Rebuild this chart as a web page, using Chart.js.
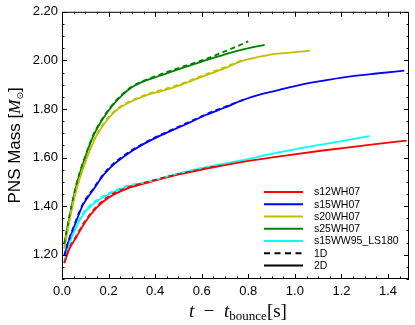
<!DOCTYPE html>
<html>
<head>
<meta charset="utf-8">
<script src="https://cdn.jsdelivr.net/npm/chart.js@4.4.0/dist/chart.umd.min.js"></script>
<style>
html,body{margin:0;padding:0;background:#fff;}
#wrap{width:415px;height:325px;position:relative;}
</style>
</head>
<body>
<div id="wrap"><canvas id="c" width="415" height="325"></canvas></div>
<script>
// ---- data (t - t_bounce [s], PNS mass [Msun]) ----
const tRed2D  = [0.01,0.03,0.06,0.10,0.15,0.20,0.28,0.38,0.48,0.62,0.77,0.95,1.12,1.30,1.48];
const mRed2D  = [1.165,1.22,1.27,1.335,1.395,1.435,1.472,1.500,1.526,1.554,1.581,1.607,1.629,1.650,1.670];
const tRed1D  = [0.01,0.03,0.06,0.10,0.15,0.20,0.28,0.38,0.48,0.62,0.68];
const mRed1D  = [1.167,1.224,1.275,1.340,1.400,1.440,1.476,1.503,1.528,1.556,1.567];

const tBlue2D = [0.01,0.03,0.05,0.09,0.135,0.18,0.22,0.28,0.34,0.40,0.47,0.55,0.62,0.70,0.78,0.86,0.93,1.00,1.07,1.15,1.24,1.35,1.47];
const mBlue2D = [1.195,1.26,1.31,1.405,1.468,1.530,1.570,1.614,1.650,1.680,1.711,1.745,1.776,1.806,1.838,1.862,1.878,1.894,1.908,1.921,1.934,1.946,1.958];
const tBlue1D = [0.01,0.03,0.05,0.09,0.135,0.18,0.22,0.28,0.34,0.40,0.47,0.55,0.62,0.70,0.79];
const mBlue1D = [1.197,1.264,1.315,1.410,1.473,1.534,1.574,1.618,1.653,1.683,1.714,1.748,1.779,1.809,1.842];

const tYel2D  = [0.01,0.03,0.06,0.10,0.14,0.18,0.22,0.26,0.30,0.35,0.40,0.48,0.60,0.70,0.78,0.85,0.91,0.98,1.065];
const mYel2D  = [1.225,1.33,1.46,1.58,1.675,1.737,1.783,1.812,1.832,1.852,1.867,1.889,1.932,1.968,2.000,2.015,2.026,2.032,2.040];
const tYel1D  = [0.01,0.03,0.06,0.10,0.14,0.18,0.22,0.26,0.30,0.35,0.40,0.48,0.60,0.70,0.78];
const mYel1D  = [1.227,1.335,1.465,1.585,1.679,1.742,1.787,1.816,1.836,1.855,1.871,1.893,1.936,1.972,2.004];

const tGrn2D  = [0.01,0.035,0.063,0.10,0.135,0.18,0.22,0.26,0.30,0.35,0.40,0.48,0.60,0.70,0.77,0.87];
const mGrn2D  = [1.245,1.37,1.49,1.602,1.690,1.766,1.818,1.858,1.889,1.913,1.930,1.957,1.995,2.025,2.043,2.064];
const tGrn1D  = [0.01,0.035,0.063,0.10,0.135,0.18,0.22,0.26,0.30,0.35,0.40,0.48,0.60,0.70,0.80];
const mGrn1D  = [1.247,1.374,1.495,1.607,1.695,1.770,1.822,1.862,1.892,1.916,1.934,1.962,2.000,2.037,2.078];

const tCyn2D  = [0.01,0.03,0.05,0.09,0.135,0.20,0.28,0.38,0.48,0.62,0.77,0.90,1.05,1.20,1.32];
const mCyn2D  = [1.168,1.24,1.29,1.365,1.410,1.448,1.479,1.500,1.528,1.561,1.588,1.615,1.643,1.668,1.688];
const tCyn1D  = [0.01,0.03,0.05,0.09,0.135,0.20,0.28,0.38,0.48,0.60];
const mCyn1D  = [1.170,1.244,1.295,1.370,1.415,1.453,1.483,1.503,1.530,1.558];

const modelNames = ['s12WH07','s15WH07','s20WH07','s25WH07','s15WW95_LS180'];
const modelColors = ['#ff0000','#0000ff','#bfbf00','#008000','#00ffff'];
const xTicks = [0.0,0.2,0.4,0.6,0.8,1.0,1.2,1.4];
const yTicks = [1.20,1.40,1.60,1.80,2.00,2.20];
const xRange = [0, 1.49];
const yRange = [1.10, 2.20];

const pts = (t,m) => t.map((v,i)=>({x:v,y:m[i]}));
const series2D = [pts(tRed2D,mRed2D),pts(tBlue2D,mBlue2D),pts(tYel2D,mYel2D),pts(tGrn2D,mGrn2D),pts(tCyn2D,mCyn2D)];
const series1D = [pts(tRed1D,mRed1D),pts(tBlue1D,mBlue1D),pts(tYel1D,mYel1D),pts(tGrn1D,mGrn1D),pts(tCyn1D,mCyn1D)];

const DASH=[5,3.5];
const datasets = [];
modelNames.forEach((n,i)=>{
  datasets.push({label:n+' 1D',data:series1D[i],borderColor:modelColors[i],borderWidth:1.8,borderDash:DASH,pointRadius:0,cubicInterpolationMode:'monotone',fill:false});
});
modelNames.forEach((n,i)=>{
  datasets.push({label:n+' 2D',data:series2D[i],borderColor:modelColors[i],borderWidth:1.8,pointRadius:0,cubicInterpolationMode:'monotone',fill:false});
});

const deco = {
  id:'deco',
  afterDraw(chart){
    const {ctx, chartArea:a, scales:{x,y}} = chart;
    ctx.save();
    ctx.strokeStyle='#000'; ctx.lineWidth=1;
    ctx.strokeRect(a.left+0.5,a.top+0.5,a.right-a.left-1,a.bottom-a.top-1);
    ctx.beginPath();
    const tick=(px,len,horiz)=>{
      if(horiz){
        ctx.moveTo(Math.round(px)+0.5,a.bottom); ctx.lineTo(Math.round(px)+0.5,a.bottom-len);
        ctx.moveTo(Math.round(px)+0.5,a.top); ctx.lineTo(Math.round(px)+0.5,a.top+len);
      } else {
        ctx.moveTo(a.left,Math.round(px)+0.5); ctx.lineTo(a.left+len,Math.round(px)+0.5);
        ctx.moveTo(a.right,Math.round(px)+0.5); ctx.lineTo(a.right-len,Math.round(px)+0.5);
      }
    };
    for(let k=0;k<=29;k++){const v=k*0.05; if(v>xRange[1]) break; const major=(k%4===0); tick(x.getPixelForValue(v),major?5:2.5,true);}
    for(let k=0;k<=22;k++){const v=1.10+k*0.05; if(v>yRange[1]+1e-9) break; const major=(k%4===2); tick(y.getPixelForValue(v),major?5:2.5,false);}
    ctx.stroke();

    // legend
    ctx.fillStyle='#000';
    ctx.font='10.5px "Liberation Sans", Arial, sans-serif';
    ctx.textBaseline='middle'; ctx.textAlign='left';
    const rows = modelNames.map((n,i)=>({label:n,color:modelColors[i],dash:[]}));
    rows.push({label:'1D',color:'#000',dash:[6,4.5]});
    rows.push({label:'2D',color:'#000',dash:[]});
    rows.forEach((r,i)=>{
      const yy = 192 + i*12.25;
      ctx.beginPath(); ctx.setLineDash(r.dash); ctx.strokeStyle=r.color; ctx.lineWidth=1.8;
      ctx.moveTo(264,yy); ctx.lineTo(303,yy); ctx.stroke();
      ctx.setLineDash([]);
      ctx.fillText(r.label,314,yy+0.5);
    });

    // y title
    ctx.save();
    ctx.translate(14,(a.top+a.bottom)/2);
    ctx.rotate(-Math.PI/2);
    ctx.textBaseline='alphabetic';
    const f1='17px "Liberation Sans", Arial, sans-serif';
    const f2='italic 17px "Liberation Serif", serif';
    const f3='9px "DejaVu Sans", sans-serif';
    const parts=[['PNS Mass [',f1,0],['M',f2,0],['\u2299',f3,3],[']',f1,0]];
    let w=0; parts.forEach(p=>{ctx.font=p[1]; w+=ctx.measureText(p[0]).width;});
    let cx=-w/2;
    parts.forEach(p=>{ctx.font=p[1]; ctx.fillText(p[0],cx,6+p[2]); cx+=ctx.measureText(p[0]).width;});
    ctx.restore();

    // x title
    const g1='italic 19px "Liberation Serif", serif';
    const g2='19px "Liberation Serif", serif';
    const g3='13px "Liberation Serif", serif';
    const xp=[['t',g1,0],['  \u2212  ',g2,0],['t',g1,0],['bounce',g3,3],['[s]',g2,0]];
    ctx.textBaseline='alphabetic';
    let wx=0; xp.forEach(p=>{ctx.font=p[1]; wx+=ctx.measureText(p[0]).width;});
    let sx=238 - wx/2;
    xp.forEach(p=>{ctx.font=p[1]; ctx.fillText(p[0],sx,317+p[2]); sx+=ctx.measureText(p[0]).width;});
    ctx.restore();
  }
};

new Chart(document.getElementById('c'),{
  type:'line',
  data:{datasets},
  options:{
    responsive:false, animation:false, devicePixelRatio:1,
    layout:{padding:{top:11,right:6,left:0,bottom:0}},
    plugins:{legend:{display:false},tooltip:{enabled:false}},
    scales:{
      x:{type:'linear',min:xRange[0],max:xRange[1],
         grid:{display:false,drawTicks:false},border:{display:false},
         afterBuildTicks:s=>{s.ticks=xTicks.map(v=>({value:v}));},
         afterFit:s=>{s.height=46;},
         ticks:{padding:5,color:'#000',font:{family:'"Liberation Sans", Arial, sans-serif',size:13},maxRotation:0,callback:v=>Number(v).toFixed(1)}},
      y:{type:'linear',min:yRange[0],max:yRange[1],
         grid:{display:false,drawTicks:false},border:{display:false},
         afterBuildTicks:s=>{s.ticks=yTicks.map(v=>({value:v}));},
         afterFit:s=>{s.width=62;},
         ticks:{padding:4,color:'#000',font:{family:'"Liberation Sans", Arial, sans-serif',size:13},callback:v=>Number(v).toFixed(2)}}
    }
  },
  plugins:[deco]
});
</script>
</body>
</html>
